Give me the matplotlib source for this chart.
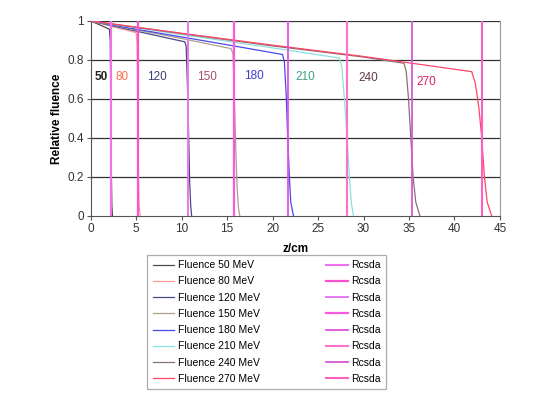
import matplotlib
matplotlib.use("Agg")
import matplotlib.pyplot as plt

plt.rcParams['font.family'] = ['Liberation Sans', 'DejaVu Sans']

# Depth (cm) and relative fluence for each proton energy
z_50 = [0, 1.0, 2.05, 2.15, 2.22, 2.28, 2.33, 2.4]
f_50 = [1, 0.98, 0.958, 0.90, 0.50, 0.20, 0.05, 0]
z_80 = [0, 2.5, 5.0, 5.1, 5.18, 5.25, 5.32, 5.45]
f_80 = [1, 0.97, 0.94, 0.88, 0.50, 0.22, 0.06, 0]
z_120 = [0, 5, 10.35, 10.5, 10.65, 10.77, 10.88, 11.0, 11.1]
f_120 = [1, 0.948, 0.893, 0.87, 0.65, 0.42, 0.18, 0.05, 0]
z_150 = [0, 5, 10, 15.45, 15.65, 15.8, 15.95, 16.1, 16.25, 16.4]
f_150 = [1, 0.955, 0.91, 0.858, 0.83, 0.6, 0.35, 0.15, 0.04, 0]
z_180 = [0, 5, 10, 15, 21.1, 21.3, 21.5, 21.65, 21.85, 22.0, 22.3]
f_180 = [1, 0.958, 0.918, 0.878, 0.828, 0.79, 0.62, 0.42, 0.2, 0.07, 0]
z_210 = [0, 10, 20, 27.35, 27.6, 27.9, 28.2, 28.45, 28.65, 28.9]
f_210 = [1, 0.93, 0.862, 0.81, 0.77, 0.6, 0.4, 0.2, 0.07, 0]
z_240 = [0, 10, 20, 30, 34.45, 34.7, 34.95, 35.2, 35.45, 35.75, 36.2]
f_240 = [1, 0.935, 0.872, 0.815, 0.783, 0.74, 0.6, 0.4, 0.2, 0.07, 0]
z_270 = [0, 10, 20, 30, 41.9, 42.3, 42.7, 43.0, 43.3, 43.6, 44.1]
f_270 = [1, 0.937, 0.876, 0.818, 0.74, 0.68, 0.55, 0.40, 0.20, 0.07, 0]

energies = [50, 80, 120, 150, 180, 210, 240, 270]
depths = [z_50, z_80, z_120, z_150, z_180, z_210, z_240, z_270]
fluences = [f_50, f_80, f_120, f_150, f_180, f_210, f_240, f_270]

# CSDA ranges (cm)
rcsda = [2.22, 5.2, 10.7, 15.8, 21.7, 28.2, 35.3, 43.0]

# energy labels inside the plot
label_z = [1.15, 3.5, 7.3, 12.8, 17.9, 23.55, 30.5, 36.9]
label_f = [0.714, 0.714, 0.714, 0.714, 0.72, 0.711, 0.706, 0.689]

curve_colors = ['#4a4a4a', '#ff9a9a', '#4a4a88', '#b0a08a', '#4848f0',
                '#8ee0e0', '#8a7070', '#ff4468']
label_colors = ['#222222', '#ff7050', '#404078', '#a05070', '#4040d0',
                '#40a080', '#603848', '#e0205a']
rcsda_colors = ['#f070f0', '#ff50d0', '#e878f0', '#ff58e0', '#e050e0',
                '#ff70d0', '#d858d8', '#ff60c0']
rcsda_widths = [1.5, 1.6, 1.4, 1.6, 1.3, 1.5, 1.3, 1.5]


def plot_fluence():
    fig = plt.figure(figsize=(5.53, 3.96), dpi=100)
    ax = fig.add_axes([0.164, 0.455, 0.740, 0.492])

    handles = []
    for e, z, f, c in zip(energies, depths, fluences, curve_colors):
        h, = ax.plot(z, f, color=c, lw=0.9, label=f'Fluence {e} MeV', zorder=3)
        handles.append(h)
    for r, c, w in zip(rcsda, rcsda_colors, rcsda_widths):
        h = ax.axvline(r, ymin=0, ymax=1, color=c, lw=w, label='Rcsda', zorder=4)
        handles.append(h)

    for e, x, y, c in zip(energies, label_z, label_f, label_colors):
        ax.text(x, y, str(e), color=c, fontsize=8.5, ha='center', va='center',
                fontweight='bold' if e == 50 else 'normal')

    ax.set_xlim(0, 45)
    ax.set_ylim(0, 1)
    ax.set_xticks(range(0, 46, 5))
    ax.set_yticks([0, 0.2, 0.4, 0.6, 0.8, 1.0])
    ax.set_yticklabels(['0', '0.2', '0.4', '0.6', '0.8', '1'])
    ax.tick_params(labelsize=8.5, length=3, width=0.8, color='#555555',
                   labelcolor='#333333', pad=2)
    for y in [0.2, 0.4, 0.6, 0.8, 1.0]:
        ax.axhline(y, color='#333333', lw=0.9, zorder=1)
    for side in ['left', 'bottom']:
        ax.spines[side].set_color('#555555')
    ax.spines['right'].set_color('#999999')
    ax.spines['top'].set_visible(False)

    ax.set_xlabel('z/cm', fontsize=8.5, fontweight='bold', labelpad=6)
    ax.set_ylabel('Relative fluence', fontsize=8.5, fontweight='bold', labelpad=3)

    leg = fig.legend(handles=handles, ncol=2, loc='lower left',
                     bbox_to_anchor=(0.257, 0.004), fontsize=7.5,
                     frameon=True, fancybox=False, edgecolor='#999999',
                     handlelength=2.1, handletextpad=0.35, columnspacing=6.3,
                     labelspacing=0.6, borderpad=0.5)
    leg.get_frame().set_linewidth(0.9)

    fig.savefig('out.png', dpi=100)


if __name__ == "__main__":
    plot_fluence()
